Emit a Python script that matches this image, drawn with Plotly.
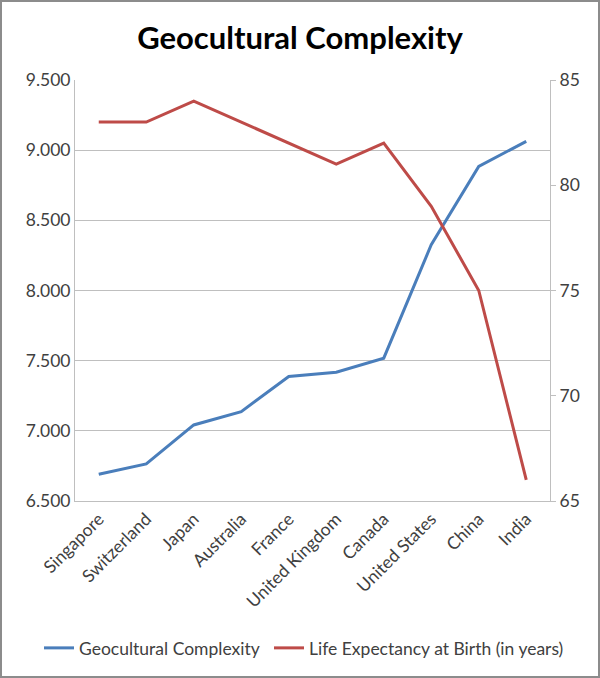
import plotly.graph_objects as go

countries = ['Singapore', 'Switzerland', 'Japan', 'Australia', 'France',
             'United Kingdom', 'Canada', 'United States', 'China', 'India']
complexity = [6.690, 6.764, 7.042, 7.137, 7.387, 7.418, 7.518, 8.326, 8.884, 9.063]
life_expectancy = [83, 83, 84, 83, 82, 81, 82, 79, 75, 66]

BLUE = '#4a7ebb'
RED = '#be4b48'
GRID = '#bfbfbf'
FONT = 'Lato'
TXT = '#404040'

fig = go.Figure()

fig.add_trace(go.Scatter(
    x=countries, y=complexity, mode='lines', name='Geocultural Complexity',
    line=dict(color=BLUE, width=3), legend='legend'
))
fig.add_trace(go.Scatter(
    x=countries, y=life_expectancy, mode='lines',
    name='Life Expectancy at Birth (in years)',
    line=dict(color=RED, width=3), yaxis='y2', legend='legend2'
))

ml, mr, mt, mb = 75, 50, 80, 177
pw, ph = 600 - ml - mr, 678 - mt - mb

# one legend per series so the two entries sit on a single row
legend_style = dict(orientation='h', xref='container', xanchor='left',
                    yref='container', y=1 - 648 / 678, yanchor='middle',
                    bgcolor='rgba(0,0,0,0)', itemwidth=30,
                    font=dict(size=17.5, color=TXT))

fig.update_layout(
    width=600, height=678,
    margin=dict(l=ml, r=mr, t=mt, b=mb, autoexpand=False),
    paper_bgcolor='white', plot_bgcolor='white',
    font=dict(family=FONT, size=17.5, color=TXT),
    title=dict(text='<b>Geocultural Complexity</b>', x=0.5, xref='container',
               xanchor='center', y=0.944, yanchor='middle',
               font=dict(family=FONT, size=31, color='black')),
    xaxis=dict(showgrid=False, showline=True, linecolor=GRID, linewidth=1,
               tickangle=-45, ticks='', tickmode='array', tickvals=countries,
               automargin=False, range=[-0.5, 9.5],
               tickfont=dict(size=17.5, color=TXT)),
    yaxis=dict(range=[6.5, 9.5], dtick=0.5, tickformat='.3f', showgrid=True,
               gridcolor=GRID, gridwidth=1, showline=True, linecolor=GRID,
               zeroline=False, ticks='', automargin=False),
    yaxis2=dict(range=[65, 85], dtick=5, overlaying='y', side='right',
                showgrid=False, showline=True, linecolor=GRID, zeroline=False,
                ticks='outside', ticklen=5, tickcolor=GRID, automargin=False),
    legend=dict(x=39 / 600, **legend_style),
    legend2=dict(x=269 / 600, **legend_style),
    showlegend=True,
)

# outer frame around the whole picture
fig.add_shape(type='rect', xref='paper', yref='paper',
              x0=-(ml - 1) / pw, x1=1 + (mr - 1) / pw,
              y0=-(mb - 1) / ph, y1=1 + (mt - 1) / ph,
              line=dict(color='#8c8c8c', width=2), layer='above')

# drop the default 8px page margin so the figure sits at the window origin
fig.write_html("out.html", config={'displayModeBar': False},
               post_script="document.body.style.margin='0';")
